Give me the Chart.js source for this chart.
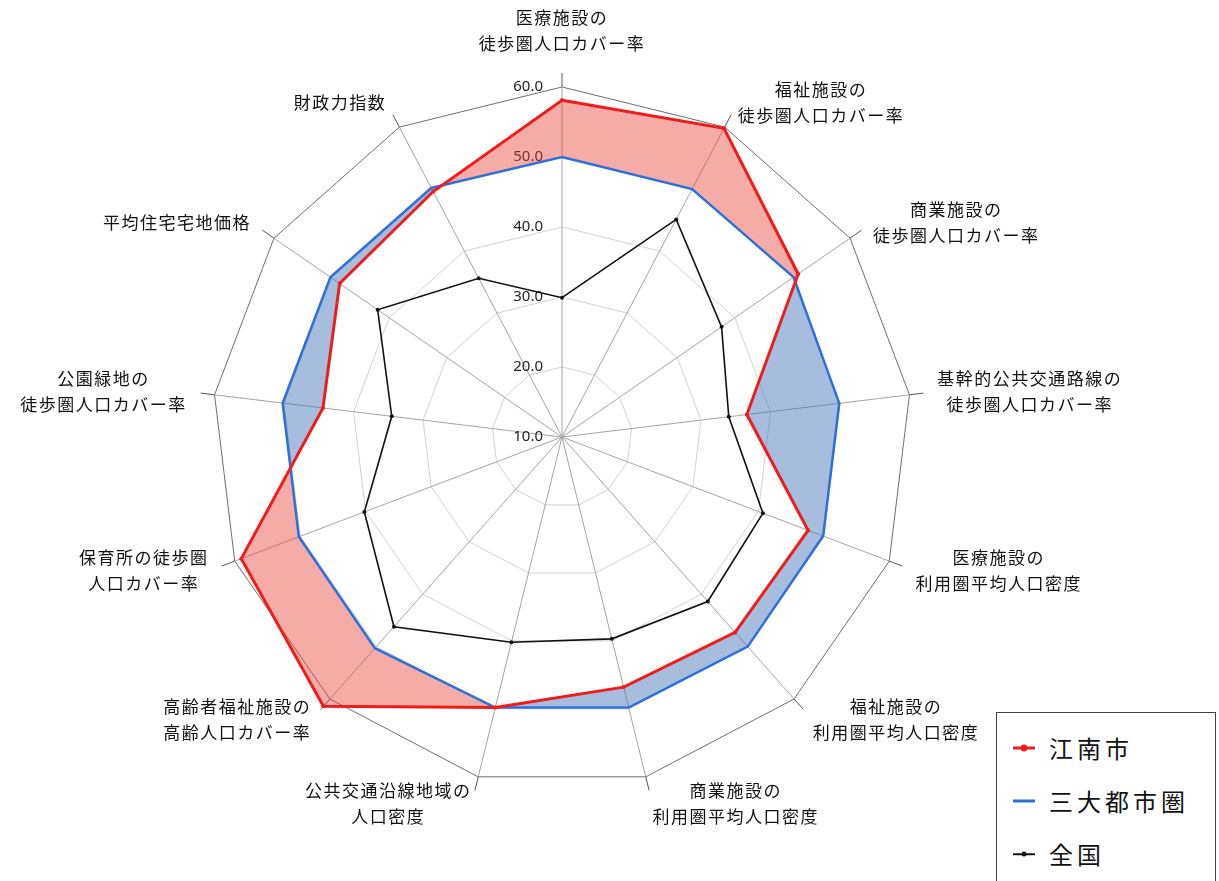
<!DOCTYPE html>
<html lang="ja">
<head>
<meta charset="utf-8">
<title>都市構造評価 レーダーチャート</title>
<script src="https://cdn.jsdelivr.net/npm/chart.js@4.4.1/dist/chart.umd.min.js"></script>
<style>
  html, body { margin: 0; padding: 0; background: #fff; }
  #wrap { position: relative; width: 1219px; height: 881px; overflow: hidden; }
  #legend {
    position: absolute; left: 996px; top: 712px; width: 220px; height: 180px;
    border: 1px solid #444; box-sizing: border-box; background: #fff;
    font-family: "Noto Sans CJK JP", "Noto Sans", sans-serif;
  }
  .leg-row { position: absolute; left: 0; height: 30px; display: flex; align-items: center; }
  .leg-mark { position: relative; width: 22px; height: 30px; margin-left: 16px; margin-right: 14px; }
  .leg-line { position: absolute; left: 0; right: 0; top: 50%; transform: translateY(-50%); }
  .leg-dot  { position: absolute; left: 50%; top: 50%; border-radius: 50%; transform: translate(-50%, -50%); }
  .leg-text { font-size: 24px; letter-spacing: 4px; color: #111; line-height: 30px; }
</style>
</head>
<body>
<div id="wrap">
  <canvas id="radar" width="1219" height="881"></canvas>
  <div id="legend"></div>
</div>
<script>
// ── Data ──────────────────────────────────────────────────────────────────────
const AXIS_LABELS = [
  ['医療施設の', '徒歩圏人口カバー率'],
  ['福祉施設の', '徒歩圏人口カバー率'],
  ['商業施設の', '徒歩圏人口カバー率'],
  ['基幹的公共交通路線の', '徒歩圏人口カバー率'],
  ['医療施設の', '利用圏平均人口密度'],
  ['福祉施設の', '利用圏平均人口密度'],
  ['商業施設の', '利用圏平均人口密度'],
  ['公共交通沿線地域の', '人口密度'],
  ['高齢者福祉施設の', '高齢人口カバー率'],
  ['保育所の徒歩圏', '人口カバー率'],
  ['公園緑地の', '徒歩圏人口カバー率'],
  ['平均住宅宅地価格'],
  ['財政力指数'],
];

const SERIES_NAMES = ['江南市', '三大都市圏', '全国'];
const KONAN     = [58.1, 59.8, 51.0, 36.6, 47.6, 47.3, 46.8, 49.8, 61.4, 59.0, 44.4, 48.6, 49.6];
const SANDAI    = [50.0, 50.0, 50.2, 49.9, 49.9, 50.0, 49.8, 49.8, 50.3, 50.2, 50.2, 50.2, 50.2];
const ZENKOKU   = [29.9, 45.1, 37.7, 34.0, 40.7, 41.4, 39.7, 40.2, 46.2, 40.2, 34.5, 42.0, 35.6];

const SCALE_MIN  = 10;
const SCALE_MAX  = 60;
const SCALE_STEP = 10;

// ── Styles ────────────────────────────────────────────────────────────────────
const RED   = '#f01c1c';
const BLUE  = '#2f6fdc';
const BLACK = '#111111';
const RED_FILL  = 'rgba(232, 70, 60, 0.45)';
const BLUE_FILL = 'rgba(70, 118, 186, 0.48)';
const LABEL_FONT = '17px "Noto Sans CJK JP", "Noto Sans", sans-serif';
const TICK_FONT  = '15px "Noto Sans", "DejaVu Sans", sans-serif';

function polygonPath(ctx, pts) {
  ctx.moveTo(pts[0].x, pts[0].y);
  for (let i = 1; i < pts.length; i++) ctx.lineTo(pts[i].x, pts[i].y);
  ctx.closePath();
}

// fill the part of `outer` that lies outside `inner`
function fillOutside(chart, outer, inner, color) {
  const ctx = chart.ctx;
  ctx.save();
  ctx.beginPath();
  ctx.rect(0, 0, chart.width, chart.height);
  polygonPath(ctx, inner);
  ctx.clip('evenodd');
  ctx.beginPath();
  polygonPath(ctx, outer);
  ctx.fillStyle = color;
  ctx.fill();
  ctx.restore();
}

// Tick labels, axis stubs and the difference fills between 江南市 and 三大都市圏
const radarDecor = {
  id: 'radarDecor',
  beforeDatasetsDraw(chart) {
    const r = chart.scales.r;
    const ctx = chart.ctx;

    // axis lines run a little past the outer ring
    ctx.save();
    ctx.strokeStyle = '#555';
    ctx.lineWidth = 1;
    AXIS_LABELS.forEach((_, i) => {
      const a = r.getPointPosition(i, r.drawingArea);
      const b = r.getPointPosition(i, r.drawingArea + 14);
      ctx.beginPath(); ctx.moveTo(a.x, a.y); ctx.lineTo(b.x, b.y); ctx.stroke();
    });
    ctx.restore();

    // tick values, left of the vertical axis
    ctx.save();
    ctx.font = TICK_FONT;
    ctx.fillStyle = '#222';
    ctx.textAlign = 'right';
    ctx.textBaseline = 'middle';
    r.ticks.forEach(t => {
      const y = r.yCenter - r.getDistanceFromCenterForValue(t.value);
      ctx.fillText(t.value.toFixed(1), r.xCenter - 19, y);
    });
    ctx.restore();

    const redPts  = chart.getDatasetMeta(0).data;
    const bluePts = chart.getDatasetMeta(1).data;
    fillOutside(chart, redPts, bluePts, RED_FILL);
    fillOutside(chart, bluePts, redPts, BLUE_FILL);
  },
  afterDraw(chart) {
    const r = chart.scales.r;
    const ctx = chart.ctx;
    const lineH = 26;
    ctx.save();
    ctx.font = LABEL_FONT;
    ctx.letterSpacing = '1.5px';
    ctx.fillStyle = '#111';
    ctx.textAlign = 'center';
    ctx.textBaseline = 'middle';
    AXIS_LABELS.forEach((lines, i) => {
      const p = r.getPointPosition(i, r.drawingArea + 28);
      const dx = Math.cos(p.angle);
      const w = Math.max(...lines.map(s => ctx.measureText(s).width));
      let cx = p.x;
      if (dx > 0.1) cx = p.x + w / 2;
      else if (dx < -0.1) cx = p.x - w / 2;
      let y0;
      if (Math.abs(dx) <= 0.1) {
        y0 = p.y - 15 - (lines.length - 1) * lineH;   // top axis: block above
      } else {
        y0 = p.y - (lines.length - 1) * lineH / 2;     // side axes: centred
      }
      lines.forEach((s, j) => ctx.fillText(s, cx, y0 + j * lineH));
    });
    ctx.restore();
  },
};

const datasets = [
  {
    label: SERIES_NAMES[0], data: KONAN,
    borderColor: RED, borderWidth: 3, fill: false,
    pointRadius: 2, pointBackgroundColor: RED, pointBorderWidth: 0,
    clip: false,
  },
  {
    label: SERIES_NAMES[1], data: SANDAI,
    borderColor: BLUE, borderWidth: 2.5, fill: false,
    pointRadius: 0,
    clip: false,
  },
  {
    label: SERIES_NAMES[2], data: ZENKOKU,
    borderColor: BLACK, borderWidth: 1.6, fill: false,
    pointRadius: 2, pointBackgroundColor: BLACK, pointBorderWidth: 0,
    clip: false,
  },
];

new Chart(document.getElementById('radar').getContext('2d'), {
  type: 'radar',
  data: { labels: AXIS_LABELS, datasets },
  options: {
    responsive: false,
    animation: false,
    layout: { padding: { left: 212, top: 87, right: 307, bottom: 94 } },
    elements: { line: { tension: 0 } },
    plugins: { legend: { display: false }, tooltip: { enabled: false } },
    scales: {
      r: {
        min: SCALE_MIN,
        max: SCALE_MAX,
        ticks: { stepSize: SCALE_STEP, display: false },
        pointLabels: { display: false },
        grid: {
          color: c => (c.index === (SCALE_MAX - SCALE_MIN) / SCALE_STEP ? '#6e6e6e' : '#d2d2d2'),
          lineWidth: 1,
        },
        angleLines: { color: '#a4a4a4', lineWidth: 1 },
      },
    },
  },
  plugins: [radarDecor],
});

// ── Legend (boxed, bottom right) ─────────────────────────────────────────────
const legendMarks = [
  { line: 3, dot: 7, color: RED },
  { line: 3, dot: 0, color: BLUE },
  { line: 1.5, dot: 5, color: BLACK },
];
const legEl = document.getElementById('legend');
legEl.innerHTML = datasets.map((ds, i) => `
  <div class="leg-row" style="top:${20 + i * 53}px">
    <div class="leg-mark">
      <div class="leg-line" style="height:${legendMarks[i].line}px;background:${legendMarks[i].color}"></div>
      ${legendMarks[i].dot ? `<div class="leg-dot" style="width:${legendMarks[i].dot}px;height:${legendMarks[i].dot}px;background:${legendMarks[i].color}"></div>` : ''}
    </div>
    <span class="leg-text">${ds.label}</span>
  </div>`).join('');
</script>
</body>
</html>
